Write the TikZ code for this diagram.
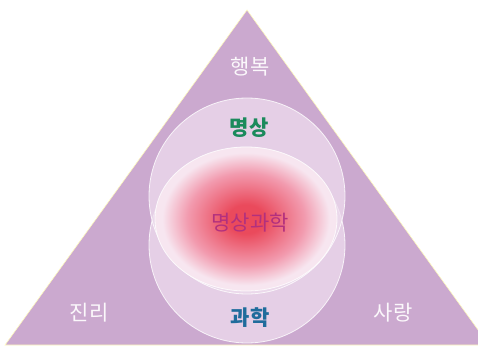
\documentclass[tikz,border=0pt]{standalone}
\usepackage{fontspec}
\newfontfamily\krfont{Noto Sans CJK KR}
\usetikzlibrary{positioning}
\definecolor{lilac}{HTML}{CBA9CF}
\definecolor{paleveil}{HTML}{EEDDEE}
\definecolor{glowcore}{HTML}{EA4A5C}
\definecolor{glowmid}{HTML}{F29AAE}
\definecolor{glowedge}{HTML}{F7E6F0}
\definecolor{medgreen}{HTML}{1B8A5C}
\definecolor{sciblue}{HTML}{1F6C9C}
\definecolor{mixpurple}{HTML}{B2307E}
\pgfdeclareradialshading{glow}{\pgfpoint{0bp}{0bp}}{%
  color(0bp)=(glowcore); color(5bp)=(glowcore);
  color(16bp)=(glowmid); color(23bp)=(glowedge); color(25bp)=(glowedge);
  color(50bp)=(glowedge)}
\tikzset{
  veil/.style  = {fill=paleveil, fill opacity=0.75, draw=white, draw opacity=0.8, thick},
  word/.style  = {font=\krfont\fontsize{21}{24}\selectfont, inner sep=1pt},
  light/.style = {word, text=white!92!lilac},
}

\begin{document}
\begin{tikzpicture}[x=1pt,y=-1pt]
  \useasboundingbox (0,0) rectangle (478,350);
  \begin{scope}
    \clip (0,0) rectangle (478,350);
    \fill[lilac, draw=yellow!25!white, semithick] (247,10) -- (5,345) -- (489,345) -- cycle;
  \end{scope}
  % two circles
  \draw[veil] (247,245) circle (98);
  \draw[veil] (247,196) circle (98);
  % the glow in the middle
  \shade[shading=glow] (246,219) ellipse (91 and 72);
  \draw[white, thick, opacity=0.8] (246,219) ellipse (91 and 72);
  % labels
  \node[light] (happy) at (250,67) {행복};
  \node[light] (truth) at (89,313) {진리};
  \node[light] (love)  at (393,313) {사랑};
  \node[word, text=medgreen, font=\krfont\bfseries\fontsize{21}{24}\selectfont] (medi) at (249,128) {명상};
  \node[word, text=sciblue, font=\krfont\bfseries\fontsize{21}{24}\selectfont] (sci) at (250,318) {과학};
  \node[word, text=mixpurple] (medisci) at (250,223) {명상과학};
\end{tikzpicture}
\end{document}
